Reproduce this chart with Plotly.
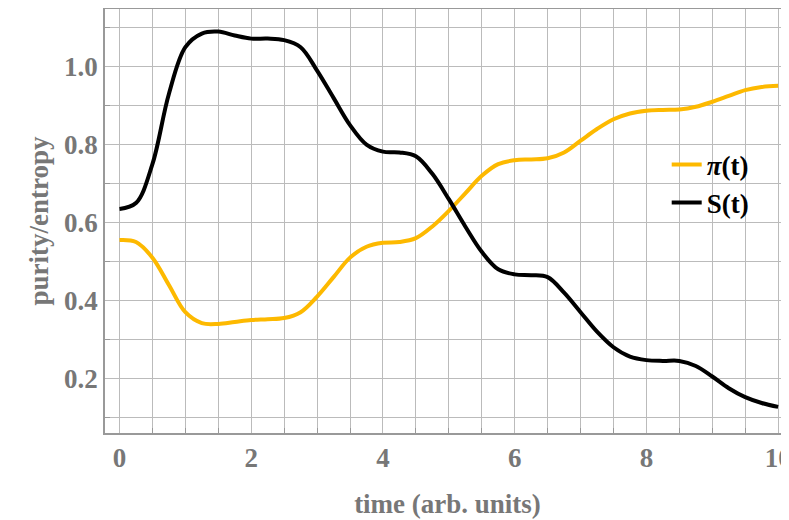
import plotly.graph_objects as go

t = [0, 0.25, 0.5, 0.75, 1.0, 1.25, 1.5, 1.75, 2.0, 2.25, 2.5, 2.75, 3.0, 3.25, 3.5, 3.75, 4.0, 4.25, 4.5, 4.75,
     5.0, 5.25, 5.5, 5.75, 6.0, 6.25, 6.5, 6.75, 7.0, 7.25, 7.5, 7.75, 8.0, 8.25, 8.5, 8.75, 9.0, 9.25, 9.5, 9.75, 10.0]
S = [0.635, 0.65, 0.75, 0.93, 1.05, 1.085, 1.09, 1.08, 1.072, 1.072, 1.068, 1.05, 0.99, 0.92, 0.85, 0.80, 0.782, 0.78,
     0.77, 0.725, 0.66, 0.59, 0.525, 0.48, 0.467, 0.465, 0.46, 0.42, 0.37, 0.32, 0.28, 0.256, 0.247, 0.245, 0.245,
     0.232, 0.205, 0.175, 0.152, 0.137, 0.127]
P = [0.555, 0.55, 0.51, 0.44, 0.37, 0.342, 0.34, 0.345, 0.35, 0.352, 0.355, 0.37, 0.41, 0.46, 0.51, 0.538, 0.548,
     0.55, 0.56, 0.59, 0.63, 0.675, 0.72, 0.75, 0.76, 0.762, 0.765, 0.78, 0.81, 0.84, 0.865, 0.88, 0.887, 0.889,
     0.89, 0.897, 0.91, 0.925, 0.94, 0.948, 0.951]

fig = go.Figure()
fig.add_trace(go.Scatter(x=t, y=P, mode="lines", name="<i>π</i>(t)",
                         line=dict(color="#FDB900", width=4, shape="spline", smoothing=1.0)))
fig.add_trace(go.Scatter(x=t, y=S, mode="lines", name="S(t)",
                         line=dict(color="black", width=4, shape="spline", smoothing=1.0)))

font = dict(family="Liberation Serif", size=27, color="#777777", weight="bold")
ax = dict(showline=True, linecolor="#999999", linewidth=1.5, mirror=True, zeroline=False,
          gridcolor="#BBBBBB", gridwidth=1, tickfont=font, ticks="", automargin=False)
fig.update_layout(
    width=789, height=520, paper_bgcolor="white", plot_bgcolor="white",
    margin=dict(l=97, r=7, t=1, b=95),
    font=dict(family="Liberation Serif"),
    xaxis=dict(ax, range=[-0.22, 10.18], dtick=2, tick0=0,
               minor=dict(dtick=0.5, showgrid=True, gridcolor="#BBBBBB", ticks="inside", ticklen=5, tickcolor="#999999"),
               title=dict(text="<b>time (arb. units)</b>", font=dict(family="Liberation Serif", size=27, color="#777777"), standoff=22)),
    yaxis=dict(ax, range=[0.06, 1.148], dtick=0.2, tick0=0, tickformat=".1f",
               minor=dict(dtick=0.1, showgrid=True, gridcolor="#BBBBBB", ticks="inside", ticklen=5, tickcolor="#999999"),
               title=dict(text="<b>purity/entropy</b>", font=dict(family="Liberation Serif", size=27, color="#777777"), standoff=8)),
    legend=dict(x=0.82, y=0.69, xanchor="left", yanchor="top", bgcolor="rgba(0,0,0,0)",
                font=dict(family="Liberation Serif", size=27, color="black", weight="bold"),
                tracegroupgap=22, itemwidth=30),
)
fig.write_html("out.html")
